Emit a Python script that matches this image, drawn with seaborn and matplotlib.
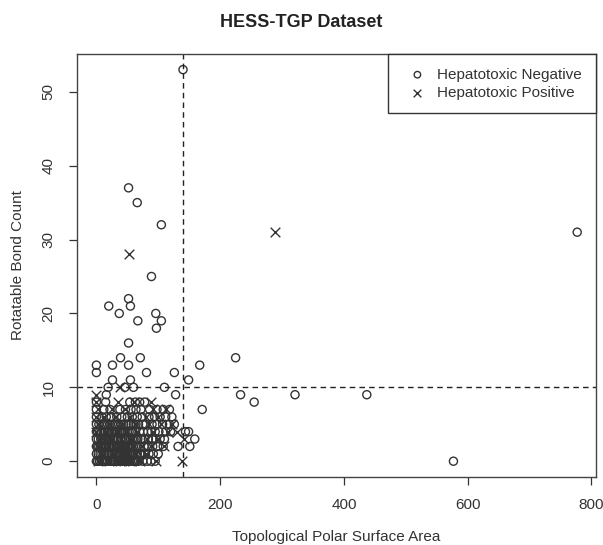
import matplotlib
matplotlib.use("Agg")
import matplotlib.pyplot as plt
import seaborn as sns
import pandas as pd

# -------------------------
# Data (TPSA, rotatable bonds)
# -------------------------
neg_x = [
    0, 5, 10, 14, 18, 22, 26, 30, 35, 40, 44, 48, 52, 58, 62, 68, 75, 82, 88, 95, 577,
    0, 6, 12, 17, 21, 26, 32, 37, 41, 46, 50, 55, 60, 66, 72, 78, 85, 92, 100,
    0, 4, 9, 15, 20, 25, 29, 34, 38, 43, 47, 52, 57, 63, 70, 77, 84, 91, 99, 108, 132, 151,
    0, 7, 12, 18, 23, 28, 33, 40, 45, 49, 55, 61, 67, 72, 78, 84, 90, 96, 103, 110, 159,
    0, 5, 11, 20, 26, 31, 37, 43, 50, 56, 63, 70, 76, 83, 89, 95, 101, 112, 120, 144, 149,
    0, 8, 14, 22, 30, 36, 44, 52, 60, 68, 75, 80, 90, 98, 107, 118, 126,
    0, 9, 16, 24, 33, 41, 50, 58, 66, 74, 85, 94, 103, 112, 122,
    0, 12, 22, 38, 47, 56, 64, 72, 86, 98, 108, 118, 171,
    0, 15, 54, 63, 70, 78, 255,
    16, 128, 233, 321, 437,
    19, 46, 60, 110,
    26, 55, 149,
    0, 81, 126,
    0, 26, 52, 167,
    39, 71, 225,
    52, 97, 67, 105, 37, 96, 20, 55, 52, 89, 777, 105, 66, 52, 140,
]
neg_y = (
    [0] * 21 + [1] * 19 + [2] * 22 + [3] * 21 + [4] * 21 + [5] * 17 + [6] * 15
    + [7] * 13 + [8] * 7 + [9] * 5 + [10] * 4 + [11] * 3 + [12] * 3 + [13] * 4
    + [14] * 3
    + [16, 18, 19, 19, 20, 20, 21, 21, 22, 25, 31, 32, 35, 37, 53]
)

# extra compounds packed into the dark lower-left block
dense_x = [
    2, 8, 16, 24, 28, 33, 37, 42, 46, 50, 54, 60, 65,
    3, 9, 14, 19, 24, 30, 34, 39, 44, 48, 53, 58, 63, 70,
    2, 7, 12, 17, 22, 27, 32, 36, 41, 45, 50, 55, 60, 66,
    3, 9, 15, 21, 26, 30, 35, 39, 47, 52, 58, 64,
    2, 8, 14, 18, 24, 29, 34, 40, 46, 53, 59,
    4, 11, 18, 26, 33, 40, 48, 56, 64,
]
dense_y = [0] * 13 + [1] * 14 + [2] * 14 + [3] * 12 + [4] * 11 + [5] * 9

pos_x = [
    3, 20, 38, 45, 55, 70, 97, 139,
    8, 28, 42, 64, 80,
    2, 18, 35, 50, 74, 88, 110,
    5, 24, 40, 58, 82, 100, 141,
    0, 15, 33, 48, 66, 92, 115, 130,
    3, 20, 42, 62, 85, 104, 122,
    0, 12, 30, 55, 80, 99,
    2, 25, 46, 91, 113,
    0, 35, 60, 88,
    0, 38, 52, 288,
]
pos_y = (
    [0] * 8 + [1] * 5 + [2] * 7 + [3] * 7 + [4] * 8 + [5] * 7 + [6] * 6
    + [7] * 5 + [8] * 4 + [9, 10, 28, 31]
)

tpsa_cut = 140
bond_cut = 10

neg = pd.DataFrame({"tpsa": neg_x + dense_x, "bonds": list(neg_y) + dense_y})
pos = pd.DataFrame({"tpsa": pos_x, "bonds": pos_y})

# -------------------------
# Plot
# -------------------------
sns.set_style("ticks")
plt.rcParams["font.family"] = ["Liberation Sans", "DejaVu Sans"]

fig = plt.figure(figsize=(6.03, 5.45), dpi=100)
ax = fig.add_axes([0.127, 0.125, 0.861, 0.776])

ink = "#333333"
sns.scatterplot(data=neg, x="tpsa", y="bonds", marker="o", s=34,
                facecolor="none", edgecolor=ink, linewidth=1.0,
                label="Hepatotoxic Negative", ax=ax)
sns.scatterplot(data=pos, x="tpsa", y="bonds", marker="x", s=48,
                color=ink, linewidth=1.0,
                label="Hepatotoxic Positive", ax=ax)

ax.axvline(tpsa_cut, color="#222222", linestyle=(0, (4, 3)), linewidth=1)
ax.axhline(bond_cut, color="#222222", linestyle=(0, (4, 3)), linewidth=1)

ax.set_xlim(-32, 807)
ax.set_ylim(-2.12, 55.12)
ax.set_xticks([0, 200, 400, 600, 800])
ax.set_yticks([0, 10, 20, 30, 40, 50])
ax.tick_params(colors=ink, labelsize=11, length=6, width=0.9, pad=9)
for lab in ax.get_yticklabels():
    lab.set_rotation(90)
    lab.set_va("center")
for sp in ax.spines.values():
    sp.set_visible(True)
    sp.set_color("#444444")
    sp.set_linewidth(1)

ax.set_xlabel("Topological Polar Surface Area", fontsize=11, color=ink, labelpad=13)
ax.set_ylabel("Rotatable Bond Count", fontsize=11, color=ink, labelpad=12)
fig.suptitle("HESS-TGP Dataset", fontsize=13, fontweight="bold", color="#222222", y=0.975)

leg = ax.legend(loc="upper right", borderaxespad=0, fancybox=False, framealpha=1,
                edgecolor="#333333", fontsize=11, handletextpad=0.3,
                borderpad=0.9, labelspacing=0.25, markerscale=0.8)
leg.get_frame().set_linewidth(1)
for t in leg.get_texts():
    t.set_color(ink)

fig.savefig("out.png", dpi=100)
